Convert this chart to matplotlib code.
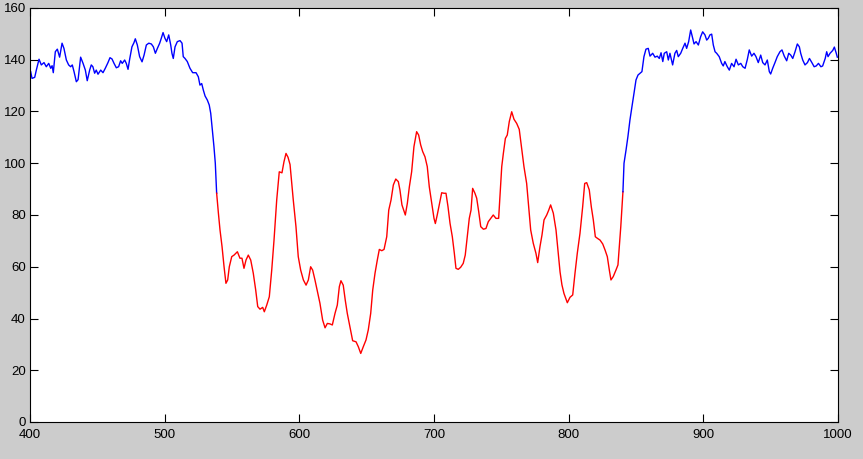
import matplotlib as mpl
mpl.use('Agg')
import matplotlib.pyplot as plt

# left blue part
blue1_x = [400.5, 401.5, 403.5, 404.7, 406.7, 408.4, 410.4, 412.1, 413.9, 415.4, 416.4, 417.3,
           418.8, 420.3, 422.0, 423.8, 425.2, 427.0, 428.7, 430.2, 431.4, 432.7, 434.4, 435.7,
           437.6, 439.4, 441.1, 442.5, 444.3, 445.5, 446.7, 448.0, 449.2, 450.5, 452.5, 454.2,
           455.9, 457.9, 459.4, 460.9, 462.4, 464.1, 465.8, 467.3, 468.5, 470.3, 471.5, 472.8,
           474.0, 475.7, 477.2, 478.2, 479.7, 481.4, 483.2, 484.7, 486.4, 488.2, 490.1, 491.6,
           493.1, 494.6, 496.3, 497.5, 498.8, 500.2, 501.5, 503.0, 504.5, 505.4, 506.4, 507.7,
           509.4, 511.4, 512.9, 513.8, 515.1, 516.8, 518.8, 520.8, 523.3, 525.0, 526.2, 527.5,
           528.7, 530.0, 531.7, 533.1, 534.2, 535.4, 536.6, 537.6, 538.6]
blue1_y = [135.4, 132.8, 133.2, 136.0, 140.2, 138.0, 138.9, 137.3, 138.6, 136.7, 137.7, 135.0,
           143.1, 144.1, 141.0, 146.4, 144.4, 139.9, 138.0, 137.3, 138.0, 135.4, 131.5, 132.3,
           141.0, 138.6, 136.0, 131.9, 136.0, 138.0, 137.3, 134.8, 136.0, 134.4, 136.0, 135.0,
           136.7, 138.9, 140.8, 140.3, 138.6, 136.9, 137.3, 139.6, 138.6, 139.9, 138.6, 136.3,
           140.2, 145.0, 146.6, 148.1, 145.7, 141.2, 139.2, 141.8, 145.7, 146.4, 146.1, 145.0,
           142.5, 144.4, 146.4, 148.3, 150.5, 148.3, 147.0, 149.6, 145.7, 142.5, 140.5, 145.0,
           147.0, 147.4, 146.4, 141.2, 140.5, 139.3, 136.7, 135.0, 135.0, 133.4, 130.2, 130.8,
           128.3, 126.0, 124.4, 122.5, 119.3, 112.9, 106.4, 100.0, 88.4]

# red middle part
red_x = [538.6, 539.9, 541.1, 542.6, 544.1, 545.5, 546.8, 548.0, 549.8, 551.5, 554.0, 555.9,
         557.4, 558.9, 560.4, 562.1, 563.9, 565.8, 567.6, 569.1, 570.8, 572.8, 574.0, 575.8,
         577.7, 579.5, 581.2, 583.2, 585.1, 587.1, 588.6, 590.1, 591.6, 593.1, 595.5, 597.5,
         599.2, 601.0, 603.0, 605.0, 606.7, 608.4, 609.9, 611.6, 613.3, 615.3, 617.3, 619.1,
         620.8, 622.8, 624.5, 626.5, 628.2, 629.7, 630.9, 632.6, 634.1, 635.6, 637.6, 639.6,
         642.1, 643.8, 645.6, 647.5, 649.5, 651.2, 653.0, 654.5, 656.2, 657.9, 659.4, 661.2,
         662.9, 664.9, 666.4, 668.1, 669.8, 671.6, 673.5, 674.7, 676.2, 678.7, 680.2, 681.7,
         683.4, 685.1, 687.1, 688.6, 690.1, 691.6, 693.3, 695.0, 696.5, 698.3, 700.0, 701.0,
         702.4, 703.9, 705.7, 707.4, 708.9, 710.4, 711.9, 713.6, 715.1, 716.3, 718.0, 719.8,
         721.7, 723.2, 724.7, 726.2, 727.5, 728.7, 730.4, 731.7, 733.2, 734.7, 736.7, 738.6,
         740.3, 742.1, 744.0, 746.0, 748.0, 749.0, 750.3, 751.5, 753.0, 754.4, 755.9, 757.7,
         759.4, 761.4, 763.3, 765.1, 766.8, 768.8, 770.3, 771.8, 773.7, 775.7, 777.0, 778.7,
         780.2, 781.7, 783.7, 785.2, 786.6, 788.6, 790.6, 792.3, 793.6, 795.0, 796.5, 799.0,
         801.0, 803.0, 804.7, 806.4, 808.4, 810.4, 811.9, 813.4, 815.3, 816.8, 818.3, 819.8,
         821.3, 823.3, 825.3, 827.0, 828.7, 830.2, 831.4, 833.1, 835.1, 836.6, 837.6, 838.7,
         839.6, 840.3]
red_y = [88.4, 80.7, 74.2, 67.8, 60.0, 53.6, 54.9, 60.0, 63.9, 64.5, 65.8, 63.3,
         63.3, 59.4, 62.6, 64.5, 62.6, 57.5, 51.0, 44.6, 43.6, 44.3, 42.6, 45.2,
         48.4, 58.7, 70.3, 85.8, 96.7, 96.3, 100.6, 103.8, 102.3, 99.5, 85.8, 75.5,
         63.9, 58.7, 54.9, 52.9, 54.9, 60.0, 58.7, 54.9, 50.7, 45.9, 39.4, 36.4,
         38.1, 37.9, 37.5, 42.0, 45.2, 52.3, 54.6, 52.9, 47.1, 42.0, 36.8, 31.4,
         31.0, 29.1, 26.5, 29.1, 31.7, 35.6, 42.0, 51.0, 57.5, 62.6, 66.7, 66.2,
         66.7, 71.6, 81.9, 85.8, 91.6, 93.9, 92.9, 89.7, 83.9, 80.0, 84.5, 90.9,
         96.7, 106.4, 112.2, 110.9, 107.1, 104.5, 102.5, 98.7, 90.9, 84.5, 78.7, 76.7,
         80.0, 83.9, 88.6, 88.4, 88.4, 83.2, 76.8, 71.6, 65.2, 59.4, 59.0, 59.8,
         61.3, 64.5, 71.6, 78.7, 81.9, 90.3, 88.4, 86.5, 81.3, 75.5, 74.5, 74.8,
         77.4, 78.7, 80.0, 78.7, 78.7, 87.1, 98.7, 103.8, 109.6, 110.9, 116.1, 119.9,
         117.0, 115.4, 113.1, 105.8, 98.7, 92.2, 83.2, 74.2, 69.1, 65.2, 61.6, 67.8,
         72.3, 78.1, 80.0, 81.9, 83.9, 80.7, 74.2, 65.0, 58.0, 53.0, 49.7, 46.1,
         48.2, 49.1, 57.5, 65.2, 72.9, 83.2, 92.2, 92.5, 89.7, 83.2, 78.1, 71.6,
         71.0, 70.3, 68.8, 66.5, 63.9, 58.7, 54.9, 56.2, 58.7, 60.7, 67.8, 75.5,
         83.2, 89.0]

# right blue part
blue2_x = [840.3, 841.1, 842.6, 844.0, 845.5, 847.0, 848.5, 850.0, 851.5, 853.5, 854.4, 855.9,
           857.4, 859.1, 860.4, 862.4, 864.1, 865.8, 867.3, 868.6, 869.9, 871.0, 872.8, 874.0,
           875.2, 877.2, 878.9, 880.2, 881.4, 883.2, 884.7, 886.4, 887.6, 889.1, 890.6, 892.1,
           893.1, 894.6, 896.3, 898.0, 899.5, 901.2, 902.5, 903.7, 904.9, 906.2, 907.4, 908.7,
           909.9, 911.8, 913.6, 914.8, 916.0, 917.8, 919.3, 921.0, 922.8, 924.3, 926.0, 927.8,
           929.3, 931.0, 932.7, 934.1, 935.9, 937.6, 939.1, 940.8, 942.6, 944.1, 945.8, 947.5,
           949.0, 950.0, 951.5, 953.2, 954.9, 956.9, 958.4, 960.1, 961.9, 963.4, 964.9, 966.4,
           968.1, 969.8, 971.3, 972.3, 973.8, 975.5, 977.3, 978.8, 980.6, 982.3, 983.8, 985.5,
           987.3, 988.6, 990.5, 991.6, 992.6, 994.1, 996.1, 997.3, 998.6, 999.5]
blue2_y = [89.0, 100.0, 105.1, 110.3, 116.7, 121.9, 127.0, 132.2, 134.1, 135.0, 135.4, 141.2,
           144.1, 144.4, 141.4, 142.5, 141.0, 141.4, 140.5, 142.7, 139.3, 142.5, 143.1, 139.9,
           142.5, 138.0, 142.5, 143.6, 141.2, 142.5, 144.4, 146.4, 144.4, 147.0, 151.5, 148.3,
           146.1, 147.0, 145.7, 148.9, 150.8, 149.6, 147.6, 148.3, 149.6, 149.9, 145.7, 143.1,
           142.5, 141.2, 138.6, 137.6, 139.3, 137.3, 136.0, 138.6, 137.3, 140.2, 138.0, 138.6,
           137.3, 136.7, 140.2, 143.8, 141.4, 142.5, 141.2, 138.9, 141.8, 138.9, 138.0, 139.9,
           135.4, 134.5, 136.7, 138.9, 141.2, 143.1, 143.8, 141.4, 139.6, 142.5, 141.8, 140.5,
           143.1, 146.1, 145.0, 142.5, 139.9, 138.0, 138.9, 140.5, 138.9, 137.3, 137.6, 138.6,
           137.3, 137.6, 140.5, 143.1, 141.2, 142.5, 143.6, 144.9, 142.7, 141.0]

x_ticks = [400, 500, 600, 700, 800, 900, 1000]
y_ticks = [0, 20, 40, 60, 80, 100, 120, 140, 160]

plt.rcParams['font.family'] = ['Liberation Sans', 'DejaVu Sans']

fig = plt.figure(figsize=(8.63, 4.59), dpi=100)
fig.patch.set_facecolor('#cccccc')
ax = fig.add_axes([30 / 863, 37 / 459, 808 / 863, 414 / 459])
ax.set_facecolor('white')

ax.plot(blue1_x, blue1_y, color='#0000ff', lw=1.0)
ax.plot(red_x, red_y, color='#ff0000', lw=1.0)
ax.plot(blue2_x, blue2_y, color='#0000ff', lw=1.0)

ax.set_xlim(400, 1000)
ax.set_ylim(0, 160)
ax.set_xticks(x_ticks)
ax.set_yticks(y_ticks)
ax.tick_params(direction='in', length=6, width=0.8, top=True, right=True,
               labelsize=9.5, colors='black')
ax.tick_params(axis='x', pad=5)
ax.tick_params(axis='y', pad=3)
for s in ax.spines.values():
    s.set_linewidth(0.8)
    s.set_color('black')

fig.savefig('out.png', dpi=100, facecolor=fig.get_facecolor())
print("OK")
